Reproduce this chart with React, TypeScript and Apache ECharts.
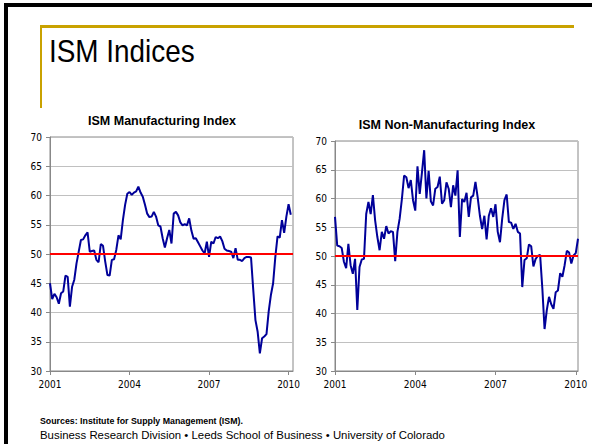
import React, { useEffect, useRef } from "react";
import * as echarts from "echarts";

// ISM Manufacturing Index, monthly, Jan 2001 – Feb 2010
const mfgValues = [
  45.0, 42.3, 43.2, 42.6, 41.5, 43.3, 43.6, 46.3, 46.1, 41.0, 44.4, 45.6,
  48.4, 50.4, 52.4, 52.5, 53.2, 53.7, 50.4, 50.5, 50.6, 49.0, 48.6, 51.7,
  51.4, 48.7, 46.4, 46.3, 49.0, 49.1, 50.7, 53.2, 52.5, 55.8, 58.4, 60.3,
  60.6, 60.1, 60.5, 60.7, 61.5, 60.5, 59.8, 58.4, 56.9, 56.3, 56.4, 57.2,
  56.4, 54.9, 54.7, 52.7, 51.1, 52.7, 54.1, 51.8, 56.9, 57.2, 56.6, 55.4,
  54.9, 55.1, 54.9, 56.1, 54.0, 52.6, 52.7, 52.0, 51.3, 50.6, 50.1, 52.1,
  49.5, 52.1, 51.8, 52.9, 52.7, 53.0, 52.2, 50.9, 50.6, 50.5, 50.4, 49.3,
  51.0, 49.0, 49.0, 48.8, 49.3, 49.5, 49.5, 49.4, 43.9, 38.7, 36.7, 33.0,
  35.6, 35.9, 36.3, 40.2, 43.0, 45.0, 49.5, 53.0, 52.8, 55.8, 53.6, 56.4,
  58.5, 56.7,
];

// ISM Non-Manufacturing Index, monthly, Jan 2001 – Feb 2010
const nonMfgValues = [
  56.8, 51.8, 51.7, 51.4, 49.0, 47.9, 52.1, 48.4, 46.9, 49.5, 40.6, 48.1,
  49.4, 49.5, 57.3, 59.4, 57.3, 60.6, 56.2, 53.3, 51.0, 54.2, 53.0, 55.2,
  53.9, 54.3, 54.2, 49.1, 54.2, 56.5, 59.9, 64.0, 63.7, 61.8, 63.2, 59.7,
  57.9, 65.6, 60.8, 64.5, 68.4, 60.0, 64.8, 59.5, 58.8, 61.7, 62.0, 63.8,
  59.1, 59.7, 62.8, 61.7, 58.5, 62.3, 60.5, 64.9, 53.3, 59.9, 59.4, 61.0,
  56.8, 60.2, 60.5, 62.9, 60.2, 57.0, 54.7, 57.0, 52.9, 57.0, 58.3, 56.8,
  59.0, 54.2, 52.4, 56.5, 59.7, 60.7, 55.9, 55.8, 54.7, 55.6, 54.2, 53.9,
  44.6, 49.3, 49.6, 52.0, 51.7, 48.2, 49.5, 50.0, 50.2, 44.4, 37.3, 40.6,
  42.9, 41.6, 40.8, 43.7, 44.0, 47.0, 46.4, 48.4, 50.9, 50.6, 48.7, 50.1,
  50.5, 53.0,
];

const tickYears = ["2001", "2004", "2007", "2010"];
const startYear = 2001;
const thresholdValue = 50;
const yMin = 30;
const yMax = 70;
const yStep = 5;

const mainTitle = "ISM Indices";
const leftTitle = "ISM Manufacturing Index";
const rightTitle = "ISM Non-Manufacturing Index";
const sourceText = "Sources: Institute for Supply Management (ISM).";
const footerText =
  "Business Research Division \u2022 Leeds School of Business \u2022 University of Colorado";

function monthCategories(n: number): string[] {
  const out: string[] = [];
  for (let i = 0; i < n; i++) {
    const y = startYear + Math.floor(i / 12);
    const m = (i % 12) + 1;
    out.push(`${y}-${m < 10 ? "0" + m : m}`);
  }
  return out;
}

const SANS = "'Liberation Sans', Arial, sans-serif";
const TICKFONT = "'DejaVu Sans Condensed', 'Liberation Sans', sans-serif";

export default function App() {
  const ref = useRef<HTMLDivElement>(null);

  useEffect(() => {
    if (!ref.current) return;
    const chart = echarts.init(ref.current, undefined, { renderer: "svg" });

    const leftCats = monthCategories(mfgValues.length + 1);
    const rightCats = monthCategories(nonMfgValues.length);

    const showTick = (idx: number, value: string) =>
      tickYears.indexOf(String(value).slice(0, 4)) >= 0 && idx % 12 === 0;

    const xAxisBase = (gridIndex: number, data: string[]) => ({
      type: "category" as const,
      gridIndex,
      data,
      boundaryGap: false,
      axisLine: { show: true, lineStyle: { color: "#888888", width: 1 } },
      axisTick: {
        show: true,
        interval: showTick,
        length: 4,
        lineStyle: { color: "#888888" },
      },
      axisLabel: {
        interval: showTick,
        formatter: (v: string) => v.slice(0, 4),
        color: "#000000",
        fontSize: 10,
        fontFamily: TICKFONT,
        margin: 8,
      },
      splitLine: { show: false },
    });

    const yAxisBase = (gridIndex: number) => ({
      type: "value" as const,
      gridIndex,
      min: yMin,
      max: yMax,
      interval: yStep,
      axisLine: { show: true, lineStyle: { color: "#888888", width: 1 } },
      axisTick: { show: true, length: 4, lineStyle: { color: "#888888" } },
      axisLabel: {
        color: "#000000",
        fontSize: 10,
        fontFamily: TICKFONT,
        margin: 8,
      },
      splitLine: { show: true, lineStyle: { color: "#c0c0c0", width: 1 } },
    });

    const seriesBase = (idx: number, data: number[]) => ({
      type: "line" as const,
      xAxisIndex: idx,
      yAxisIndex: idx,
      data,
      showSymbol: false,
      symbol: "none",
      lineStyle: { color: "#000099", width: 2 },
      itemStyle: { color: "#000099" },
      z: 3,
      markLine: {
        silent: true,
        symbol: "none",
        label: { show: false },
        lineStyle: { color: "#ff0000", width: 2, type: "solid" as const },
        data: [{ yAxis: thresholdValue }],
        z: 4,
      },
    });

    chart.setOption({
      animation: false,
      backgroundColor: "#ffffff",
      grid: [
        {
          left: 50,
          top: 137,
          width: 243,
          height: 234,
          show: true,
          borderColor: "#888888",
          borderWidth: 1,
          backgroundColor: "transparent",
        },
        {
          left: 335,
          top: 141,
          width: 243,
          height: 230,
          show: true,
          borderColor: "#888888",
          borderWidth: 1,
          backgroundColor: "transparent",
        },
      ],
      xAxis: [xAxisBase(0, leftCats), xAxisBase(1, rightCats)],
      yAxis: [yAxisBase(0), yAxisBase(1)],
      series: [seriesBase(0, mfgValues), seriesBase(1, nonMfgValues)],
      graphic: [
        { type: "rect", shape: { x: 4, y: 3, width: 588, height: 4 }, style: { fill: "#000000" } },
        { type: "rect", shape: { x: 4, y: 3, width: 4, height: 441 }, style: { fill: "#000000" } },
        { type: "rect", shape: { x: 40, y: 25, width: 534, height: 3 }, style: { fill: "#C9A200" } },
        { type: "rect", shape: { x: 40, y: 25, width: 2, height: 83 }, style: { fill: "#C9A200" } },
        {
          type: "text",
          x: 49,
          y: 51,
          scaleX: 0.9,
          style: {
            text: mainTitle,
            fill: "#000000",
            font: `31px ${SANS}`,
            textAlign: "left",
            textVerticalAlign: "middle",
          },
        },
        {
          type: "text",
          x: 162,
          y: 121,
          style: {
            text: leftTitle,
            fill: "#000000",
            font: `bold 12.5px ${SANS}`,
            textAlign: "center",
            textVerticalAlign: "middle",
          },
        },
        {
          type: "text",
          x: 447,
          y: 125,
          style: {
            text: rightTitle,
            fill: "#000000",
            font: `bold 12.5px ${SANS}`,
            textAlign: "center",
            textVerticalAlign: "middle",
          },
        },
        {
          type: "text",
          x: 40,
          y: 421,
          style: {
            text: sourceText,
            fill: "#000000",
            font: `bold 8.8px ${SANS}`,
            textAlign: "left",
            textVerticalAlign: "middle",
          },
        },
        {
          type: "text",
          x: 40,
          y: 435,
          style: {
            text: footerText,
            fill: "#000000",
            font: `11.4px ${SANS}`,
            textAlign: "left",
            textVerticalAlign: "middle",
          },
        },
      ],
    });

    return () => {
      chart.dispose();
    };
  }, []);

  return (
    <div
      ref={ref}
      style={{ position: "fixed", left: 0, top: 0, width: 592, height: 444 }}
    />
  );
}
